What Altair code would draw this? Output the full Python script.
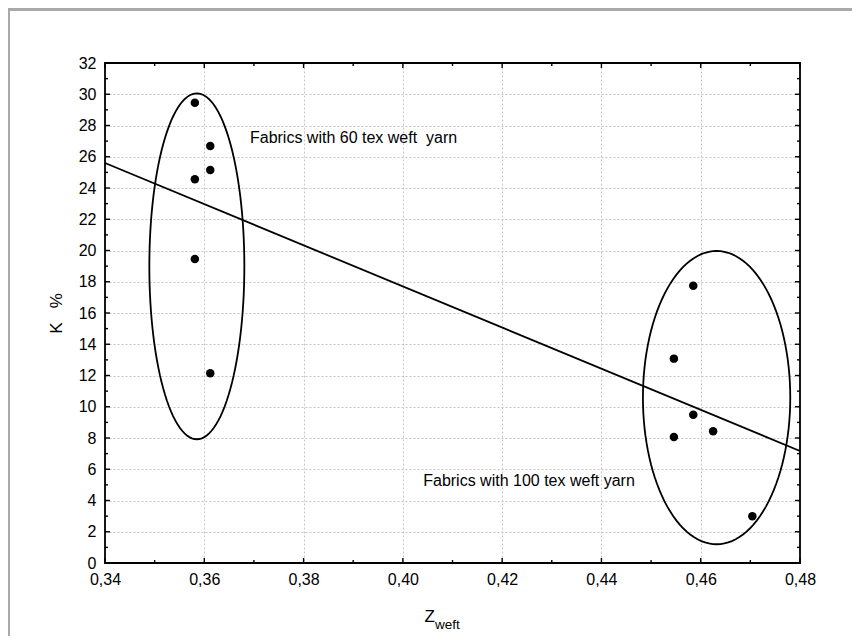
import altair as alt
import pandas as pd

# ---------------- data ----------------
x60 = [0.3581, 0.3612, 0.3612, 0.3581, 0.3581, 0.3612]
y60 = [29.46, 26.69, 25.15, 24.56, 19.46, 12.14]
x100 = [0.4585, 0.4546, 0.4585, 0.4546, 0.4625, 0.4704]
y100 = [17.75, 13.08, 9.49, 8.06, 8.43, 2.99]

fit_x = [0.34, 0.48]
fit_y = [25.6, 7.17]

ell_group = ["60 tex", "100 tex"]
ell_cx = [0.3585, 0.4632]
ell_cy = [18.99, 10.585]
ell_rx = [0.00957, 0.01484]
ell_ry = [11.07, 9.385]

note_text = ["Fabrics with 60 tex weft \u00a0yarn", "Fabrics with 100 tex weft yarn"]
note_x = [0.3692, 0.4041]
note_y = [26.88, 4.93]

x_major = [0.34, 0.36, 0.38, 0.40, 0.42, 0.44, 0.46, 0.48]
x_minor = [0.35, 0.37, 0.39, 0.41, 0.43, 0.45, 0.47]
y_major = [0, 2, 4, 6, 8, 10, 12, 14, 16, 18, 20, 22, 24, 26, 28, 30, 32]
y_minor = [1, 3, 5, 7, 9, 11, 13, 15, 17, 19, 21, 23, 25, 27, 29, 31]

# ---------------- layout ----------------
W, H = 695, 500
PAD = {"left": 97, "top": 55, "right": 52, "bottom": 73}
FONT = "Liberation Sans"
FRAME = "#a9a9a9"

xs = alt.Scale(domain=[0.34, 0.48], nice=False, zero=False)
ys = alt.Scale(domain=[0, 32], nice=False, zero=False)

label_x = "replace(format(datum.value, '.2f'), '.', ',')"
XAX = alt.Axis(
    values=x_major, labelExpr=label_x, grid=True, gridColor="#c4c4c4",
    gridDash=[2, 2], gridWidth=1, domain=False, ticks=False, tickSize=0,
    labelPadding=8, labelFontSize=16, labelFont=FONT, labelColor="black",
    labelFlush=False, title=None)
YAX = alt.Axis(
    values=y_major, grid=True, gridColor="#c4c4c4", gridDash=[2, 2],
    gridWidth=1, domain=False, ticks=False, tickSize=0, labelPadding=9,
    labelFontSize=16, labelFont=FONT, labelColor="black", labelFlush=False,
    title="K\u00a0\u00a0\u00a0%", titleFont=FONT, titleFontSize=17,
    titleFontWeight="normal", titleColor="black", titlePadding=13)

pts = pd.DataFrame({"x": x60 + x100, "y": y60 + y100})
fit = pd.DataFrame({"x": fit_x, "y": fit_y})
notes = pd.DataFrame({"x": note_x, "y": note_y, "t": note_text})
angles = list(range(0, 361, 3))
ell_records = [
    {"g": g, "cx": cx, "cy": cy, "rx": rx, "ry": ry, "t": angles}
    for g, cx, cy, rx, ry in zip(ell_group, ell_cx, ell_cy, ell_rx, ell_ry)
]

one = pd.DataFrame({"a": [1]})

# outer grey frame (visible parts)
frame_top = alt.Chart(one).mark_rect(color=FRAME).encode(
    x=alt.value(-PAD["left"]), x2=alt.value(W + PAD["right"]),
    y=alt.value(-PAD["top"]), y2=alt.value(-PAD["top"] + 3))
frame_left = alt.Chart(one).mark_rect(color=FRAME).encode(
    x=alt.value(-PAD["left"]), x2=alt.value(-PAD["left"] + 2),
    y=alt.value(-PAD["top"]), y2=alt.value(H + PAD["bottom"]))

points = alt.Chart(pts).mark_circle(size=72, color="black", opacity=1).encode(
    x=alt.X("x:Q", scale=xs, axis=XAX),
    y=alt.Y("y:Q", scale=ys, axis=YAX),
)

ellipses = alt.Chart(alt.Data(values=ell_records)).transform_flatten(["t"]).transform_calculate(
    ex="datum.cx + datum.rx * cos(datum.t * PI / 180)",
    ey="datum.cy + datum.ry * sin(datum.t * PI / 180)",
).mark_line(color="black", strokeWidth=1.8).encode(
    x=alt.X("ex:Q", scale=xs, axis=XAX),
    y=alt.Y("ey:Q", scale=ys, axis=YAX),
    detail="g:N", order="t:Q")

fitline = alt.Chart(fit).mark_line(color="black", strokeWidth=1.8).encode(
    x=alt.X("x:Q", scale=xs, axis=XAX), y=alt.Y("y:Q", scale=ys, axis=YAX))

texts = alt.Chart(notes).mark_text(
    align="left", baseline="alphabetic", font=FONT, fontSize=16, color="black"
).encode(x=alt.X("x:Q", scale=xs, axis=XAX), y=alt.Y("y:Q", scale=ys, axis=YAX), text="t:N")

def yticks(vals, length):
    d = pd.DataFrame({"v": vals})
    left = alt.Chart(d).mark_rule(color="black", strokeWidth=1.4).encode(
        y=alt.Y("v:Q", scale=ys, axis=YAX), x=alt.value(0), x2=alt.value(length))
    right = alt.Chart(d).mark_rule(color="black", strokeWidth=1.4).encode(
        y=alt.Y("v:Q", scale=ys, axis=YAX), x=alt.value(W), x2=alt.value(W - length))
    return [left, right]

def xticks(vals, length):
    d = pd.DataFrame({"v": vals})
    bottom = alt.Chart(d).mark_rule(color="black", strokeWidth=1.4).encode(
        x=alt.X("v:Q", scale=xs, axis=XAX), y=alt.value(H), y2=alt.value(H - length))
    top = alt.Chart(d).mark_rule(color="black", strokeWidth=1.4).encode(
        x=alt.X("v:Q", scale=xs, axis=XAX), y=alt.value(0), y2=alt.value(length))
    return [bottom, top]

tick_layers = yticks(y_major, 5) + yticks(y_minor, 3) + xticks(x_major, 5) + xticks(x_minor, 3)

border = alt.Chart(one).mark_rect(filled=False, stroke="black", strokeWidth=1.8).encode(
    x=alt.value(0), x2=alt.value(W), y=alt.value(0), y2=alt.value(H))

z_main = alt.Chart(pd.DataFrame({"t": ["Z"]})).mark_text(
    align="right", baseline="alphabetic", font=FONT, fontSize=17, color="black"
).encode(x=alt.value(330), y=alt.value(559), text="t:N")
z_sub = alt.Chart(pd.DataFrame({"t": ["weft"]})).mark_text(
    align="left", baseline="alphabetic", font=FONT, fontSize=13.5, color="black"
).encode(x=alt.value(330), y=alt.value(566), text="t:N")

chart = alt.layer(
    frame_top, frame_left, points, ellipses, fitline, *tick_layers, border,
    texts, z_main, z_sub,
).properties(
    width=W, height=H,
    autosize=alt.AutoSizeParams(type="none"),
    padding=PAD,
    background="white",
).configure_view(stroke=None)

chart.save("out.html", embed_options={"renderer": "svg", "actions": False})
